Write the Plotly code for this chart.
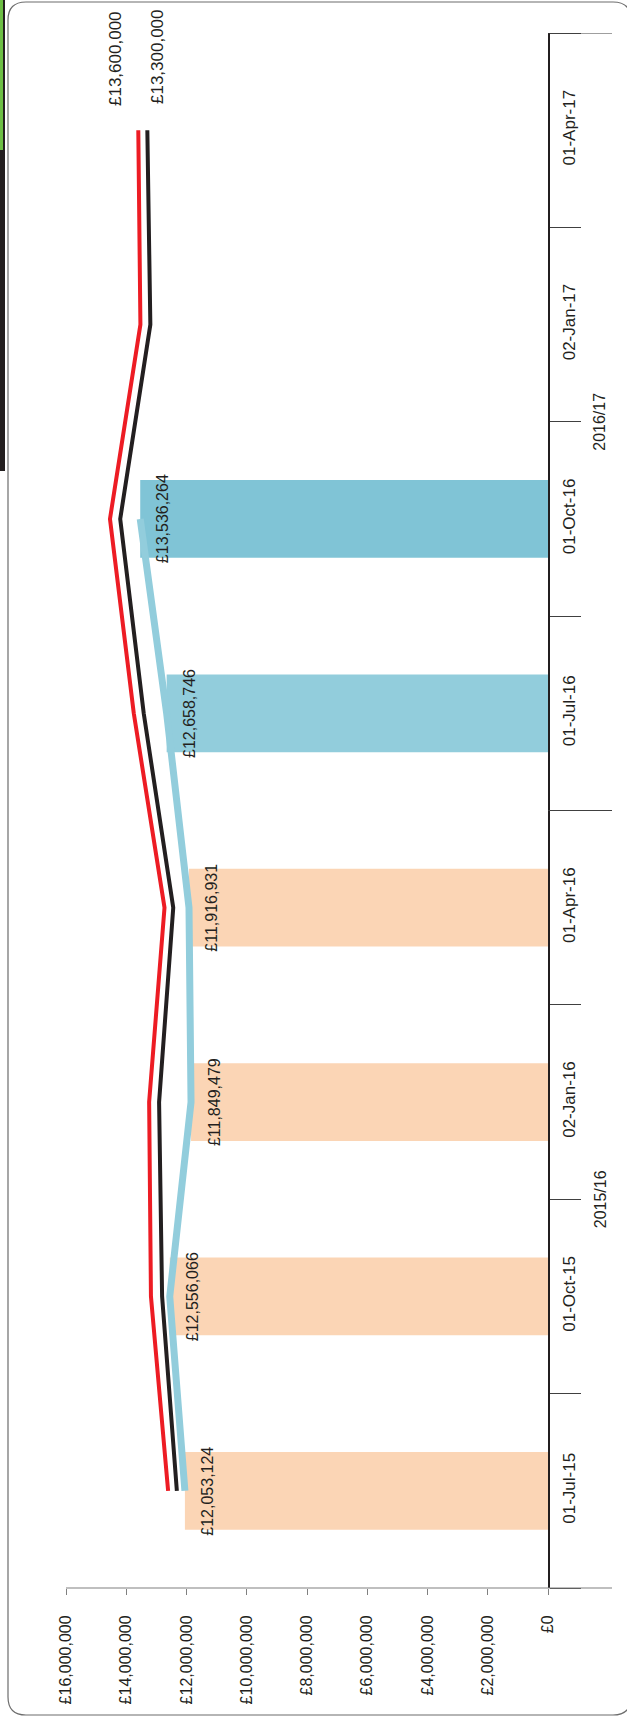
import plotly.graph_objects as go

# quarter dates (bottom -> top once rotated)
categories = ['01-Jul-15', '01-Oct-15', '02-Jan-16', '01-Apr-16',
              '01-Jul-16', '01-Oct-16', '02-Jan-17', '01-Apr-17']
years = ['2015/16', '2016/17']

actual = [12053124, 12556066, 11849479, 11916931, 12658746, 13536264]
red_series = [12610000, 13180000, 13240000, 12730000, 13750000, 14540000, 13530000, 13600000]
black_series = [12320000, 12810000, 12910000, 12440000, 13420000, 14200000, 13200000, 13300000]

bar_colors = ['#FBD5B5', '#FBD5B5', '#FBD5B5', '#FBD5B5', '#92CDDC', '#80C4D6']
value_ticks = [0, 2000000, 4000000, 6000000, 8000000, 10000000, 12000000, 14000000, 16000000]

FONT = 'Liberation Sans, Arial, sans-serif'
TXT = '#231F20'

W, H = 627, 1718
L, R, T, B = 66, 548, 33, 1588  # plot area in pixels


def px(x):
    return (x - L) / (R - L)


def py(y):
    return (B - y) / (B - T)


fig = go.Figure()

fig.add_trace(go.Bar(
    y=categories[:len(actual)], x=actual, orientation='h',
    marker=dict(color=bar_colors, line=dict(width=0)),
    width=0.4, hoverinfo='x'))

fig.add_trace(go.Scatter(y=categories, x=red_series, mode='lines',
                         line=dict(color='#ED1C24', width=4)))
fig.add_trace(go.Scatter(y=categories, x=black_series, mode='lines',
                         line=dict(color='#231F20', width=4)))
fig.add_trace(go.Scatter(y=categories[:len(actual)], x=actual, mode='lines',
                         line=dict(color='#92CDDC', width=7)))

annotations = []
for c, v in zip(categories, actual):
    annotations.append(dict(x=v, y=c, xref='x', yref='y', text='£{:,}'.format(v),
                            textangle=-90, showarrow=False, xanchor='center',
                            yanchor='middle', xshift=23,
                            font=dict(size=16, color=TXT, family=FONT)))

# end labels of the two target lines
annotations.append(dict(x=red_series[-1], y=categories[-1], text='£{:,}'.format(red_series[-1]),
                        textangle=-90, showarrow=False, xanchor='center', yanchor='bottom',
                        xshift=-23, yshift=22, font=dict(size=17, color=TXT, family=FONT)))
annotations.append(dict(x=black_series[-1], y=categories[-1], text='£{:,}'.format(black_series[-1]),
                        textangle=-90, showarrow=False, xanchor='center', yanchor='bottom',
                        xshift=10, yshift=24, font=dict(size=17, color=TXT, family=FONT)))

# fiscal year group labels
for i, yr in enumerate(years):
    annotations.append(dict(x=px(600), xref='paper', y=1.5 + 4 * i, yref='y', text=yr,
                            textangle=-90, showarrow=False, xanchor='center', yanchor='middle',
                            font=dict(size=16, color=TXT, family=FONT)))

shapes = []
# value axis line, extended under the category labels
shapes.append(dict(type='line', xref='paper', yref='paper', x0=0, x1=px(612), y0=0, y1=0,
                   line=dict(color='#808080', width=1.2)))
# long year dividers
for yv in [3.5, 7.5]:
    shapes.append(dict(type='line', xref='paper', yref='y', x0=1, x1=px(612), y0=yv, y1=yv,
                       line=dict(color='#404040', width=1)))

# rounded frame
x0, x1, y0, y1, r = 8, 631, 2, 1715, 18
path = ('M {a},{b} L {c},{b} Q {d},{b} {d},{e} L {d},{f} Q {d},{g} {c},{g} '
        'L {a},{g} Q {h},{g} {h},{f} L {h},{e} Q {h},{b} {a},{b} Z').format(
    a=px(x0 + r), b=py(y0), c=px(x1 - r), d=px(x1), e=py(y0 + r),
    f=py(y1 - r), g=py(y1), h=px(x0))
shapes.append(dict(type='path', xref='paper', yref='paper', path=path,
                   line=dict(color='#6d6d6d', width=1.2)))

# bits of the neighbouring object on the left edge
shapes.append(dict(type='rect', xref='paper', yref='paper', x0=px(0), x1=px(5),
                   y0=py(471), y1=py(0), fillcolor='#231F20', line=dict(width=0)))
shapes.append(dict(type='rect', xref='paper', yref='paper', x0=px(0), x1=px(3),
                   y0=py(150), y1=py(0), fillcolor='#6DBE45', line=dict(width=0)))

fig.update_layout(
    width=W, height=H,
    margin=dict(l=L, r=W - R, t=T, b=H - B, pad=0),
    plot_bgcolor='white', paper_bgcolor='white',
    showlegend=False, bargap=0.6,
    font=dict(family=FONT, color=TXT, size=16),
    xaxis=dict(range=[16000000, 0], tickvals=value_ticks,
               ticktext=['£0' if v == 0 else '£{:,}'.format(v) for v in value_ticks],
               tickangle=-90, ticks='outside', ticklen=6, tickcolor='#808080',
               showline=False, showgrid=False, zeroline=False,
               tickfont=dict(size=16, color=TXT, family=FONT), ticklabelstandoff=14),
    yaxis=dict(type='category', categoryorder='array', categoryarray=categories,
               range=[-0.5, 7.5], side='right', tickangle=-90,
               ticks='outside', tickson='boundaries', ticklen=31, tickcolor='#404040',
               showline=True, linecolor='#231F20', linewidth=1.5,
               showgrid=False, zeroline=False, ticklabelstandoff=5,
               tickfont=dict(size=17, color=TXT, family=FONT)),
    annotations=annotations, shapes=shapes,
)

# page body margin would push the figure 8px off the canvas
fig.write_html('out.html', config={'displayModeBar': False},
               post_script="document.body.style.margin='0';")
